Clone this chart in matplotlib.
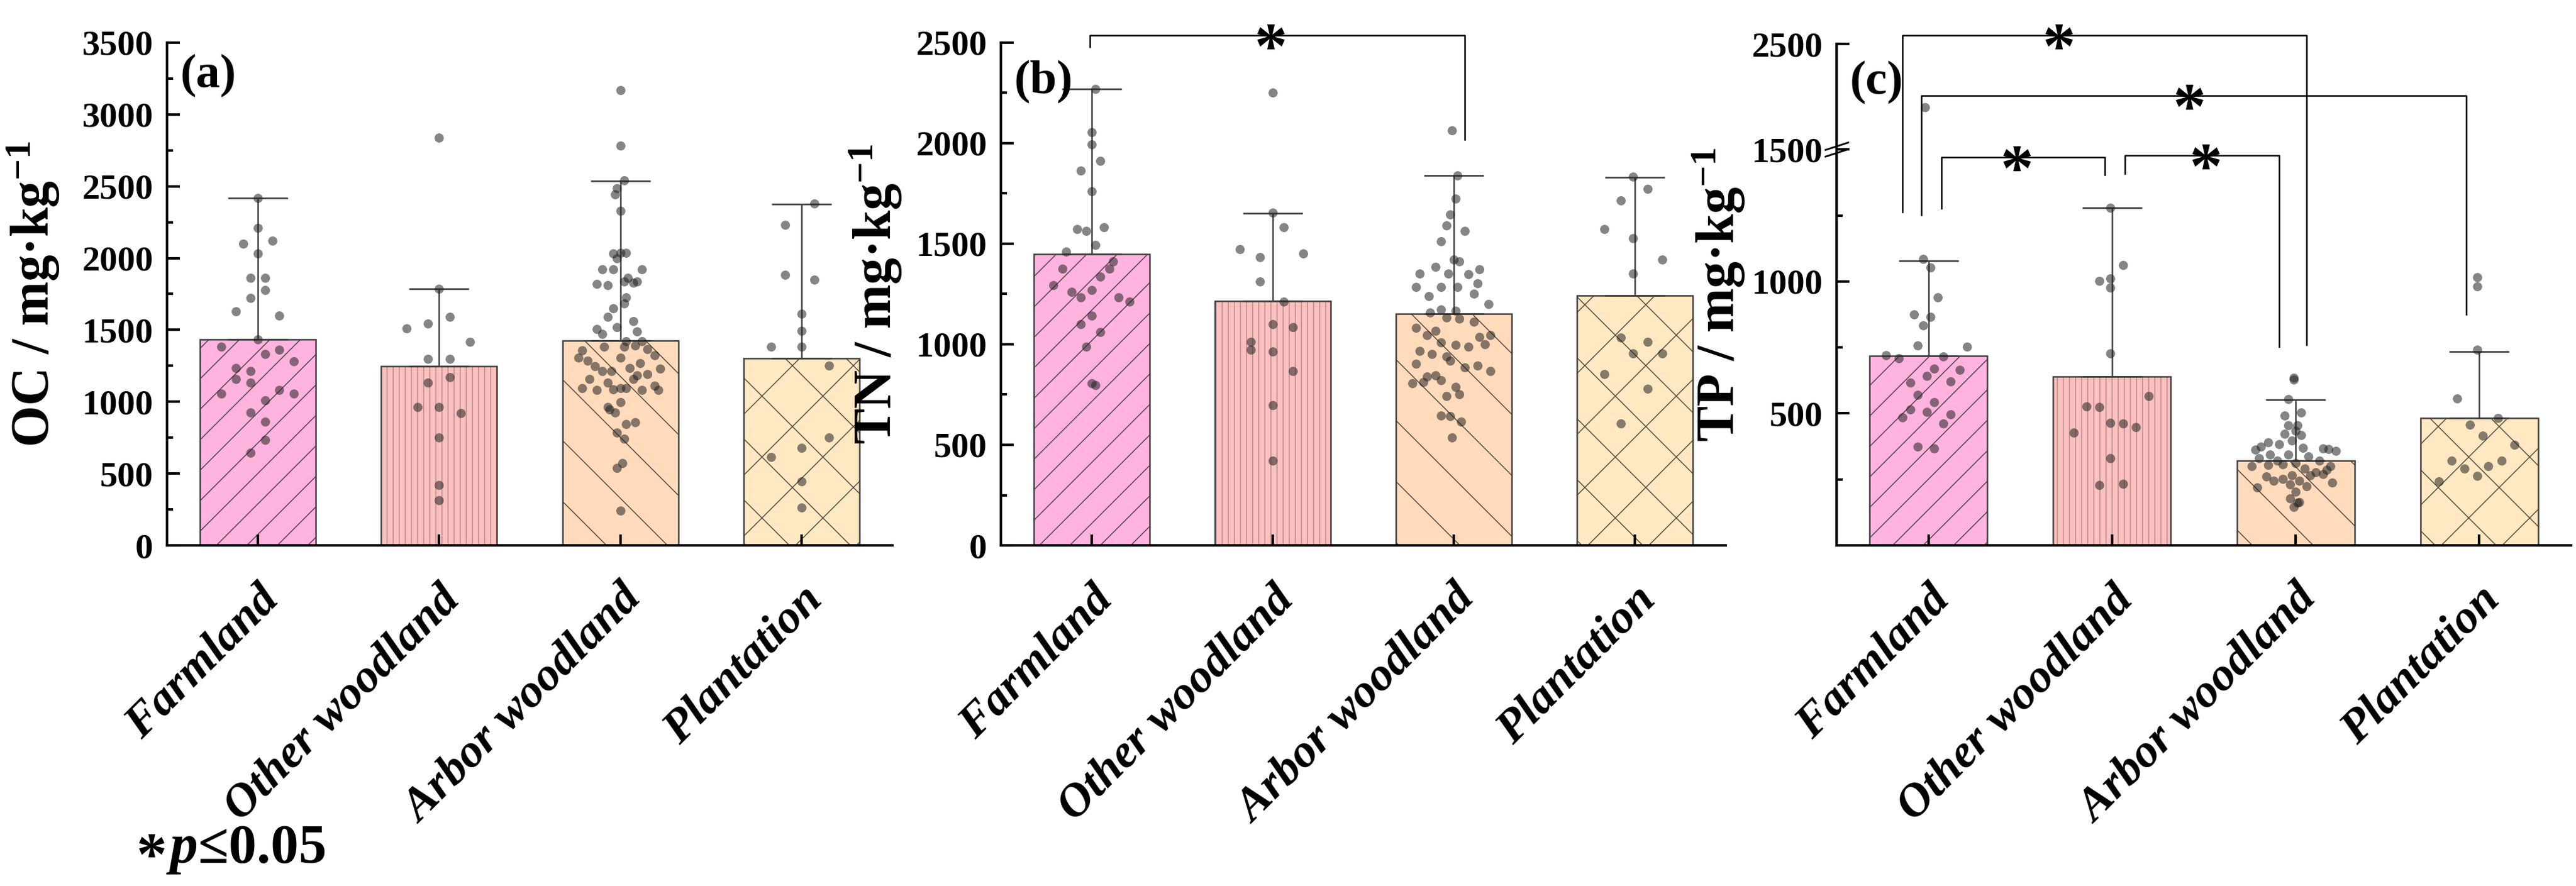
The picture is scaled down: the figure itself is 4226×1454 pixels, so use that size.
import numpy as np
import matplotlib
matplotlib.use("Agg")
import matplotlib.pyplot as plt
from matplotlib import transforms
from matplotlib.path import Path
from matplotlib.ticker import MultipleLocator, FuncFormatter

plt.rcParams["font.family"] = ["Liberation Serif", "DejaVu Serif"]
plt.rcParams["font.weight"] = "bold"
plt.rcParams["mathtext.fontset"] = "custom"
plt.rcParams["mathtext.rm"] = "Liberation Serif:bold"
plt.rcParams["mathtext.it"] = "Liberation Serif:italic:bold"
plt.rcParams["mathtext.bf"] = "Liberation Serif:bold"
plt.rcParams["hatch.linewidth"] = 0.35

# ---- data ----
groups = ["Farmland", "Other woodland", "Arbor woodland", "Plantation"]

oc_mean = [1434, 1247, 1426, 1301]
oc_top = [2419, 1785, 2535, 2376]
tn_mean = [1449, 1214, 1152, 1242]
tn_top = [2271, 1651, 1840, 1830]
tp_mean = [719, 639, 322, 482]
tp_top = [1079, 1279, 552, 735]

# OC points (value, horizontal jitter in category units)
oc_farm = [2419, 2209, 2099, 2120, 2030, 1861, 1861, 1779, 1723, 1631, 1600, 1434, 1382, 1362,
           1331, 1234, 1214, 1160, 1280, 1134, 1080, 1055, 1055, 1011, 924, 863, 735, 645]
oc_farm_dx = [0, 0, -0.08, 0.08, 0, -0.04, 0.04, 0.04, -0.04, -0.12, 0.12, 0, -0.20, 0.12,
              0.04, -0.12, -0.04, -0.12, 0.20, -0.04, 0.12, -0.20, 0.20, 0.04, -0.04, 0.04, 0.04, -0.04]
oc_other = [2837, 1785, 1512, 1546, 1589, 1415, 1300, 1300, 1172, 1132, 963, 963, 922, 753, 422, 315]
oc_other_dx = [0, 0, -0.18, -0.06, 0.06, 0.17, -0.06, 0.06, 0.06, -0.06, -0.12, 0, 0.12, 0, 0, 0]
oc_arbor = [3167, 2785, 2540, 2488, 2445, 2330, 2033, 2038, 2038, 1997, 1920, 1920, 1920, 1864,
            1838, 1838, 1820, 1813, 1830, 1726, 1685, 1651, 1592, 1562, 1518, 1508, 1470, 1490,
            1421, 1421, 1382, 1382, 1393, 1367, 1324, 1357, 1306, 1285, 1306, 1267, 1247, 1214,
            1214, 1234, 1229, 1193, 1183, 1160, 1134, 1160, 1096, 1096, 1080, 1088, 1096, 1111,
            1080, 1080, 998, 963, 945, 924, 845, 858, 783, 742, 573, 538, 241]
oc_arbor_dx = [0, 0, 0.02, -0.02, -0.03, 0, -0.04, 0.03, 0, -0.02, -0.10, -0.04, 0.12, 0.04,
               0.09, 0.02, -0.13, -0.07, 0.07, 0.03, 0.02, -0.04, -0.07, 0.07, -0.02, -0.13, -0.10, 0.09,
               0.03, 0.12, -0.09, 0.02, 0.08, 0.15, 0.19, -0.21, -0.23, -0.18, 0, 0.11, -0.14, -0.05,
               -0.10, 0.05, 0.22, 0.15, 0.09, -0.17, -0.07, 0.07, 0, -0.21, -0.13, -0.04, 0.03, 0.19,
               0.12, 0.21, 0, -0.07, -0.06, -0.03, 0.03, 0.08, -0.02, 0.02, 0.01, -0.02, 0]
oc_plant = [2378, 2233, 1882, 1851, 1610, 1493, 1382, 1382, 1252, 753, 678, 614, 445, 264]
oc_plant_dx = [0.07, -0.09, -0.09, 0.07, 0, 0, -0.17, 0, 0.15, 0.15, 0, -0.17, 0, 0]

# TN points
tn_farm = [2271, 2054, 1994, 1913, 1864, 1761, 1574, 1563, 1583, 1495, 1462, 1412, 1376, 1376,
           1335, 1269, 1293, 1262, 1234, 1234, 1211, 1141, 1101, 1060, 987, 798, 807]
tn_farm_dx = [0.02, 0, 0, 0.05, -0.06, 0, -0.08, -0.03, 0.07, 0.02, -0.14, 0.12, 0.10, -0.16,
              0.05, 0, -0.21, -0.11, -0.06, 0.15, 0.21, 0, -0.06, 0.05, -0.03, 0.02, 0]
tn_other = [2252, 1654, 1583, 1473, 1434, 1453, 1311, 1211, 1101, 1086, 1012, 972, 965, 866, 697, 422]
tn_other_dx = [0, 0, 0.06, -0.18, -0.07, 0.17, -0.07, 0.06, 0, 0.11, -0.12, -0.12, 0, 0.11, 0, 0]
tn_arbor = [2063, 1838, 1724, 1645, 1592, 1563, 1513, 1412, 1421, 1372, 1385, 1352, 1352, 1348,
            1284, 1284, 1284, 1302, 1238, 1253, 1201, 1174, 1168, 1159, 1128, 1134, 1113, 1082,
            1045, 1067, 1045, 1036, 1000, 1009, 996, 987, 968, 950, 939, 902, 917, 884, 895, 866,
            844, 840, 807, 811, 822, 789, 752, 743, 646, 642, 614, 536]
tn_arbor_dx = [-0.01, 0.02, 0.01, -0.02, -0.04, 0.06, -0.07, 0.03, 0, 0.14, -0.10, -0.19, -0.03, 0.08,
               0.02, -0.07, -0.21, 0.13, -0.14, 0.11, 0.19, -0.07, 0.01, -0.13, 0.03, -0.04, 0.11, -0.21,
               -0.15, -0.10, 0.20, 0.14, 0.17, -0.07, 0.01, 0.08, -0.19, -0.12, -0.04, -0.21, -0.02, 0.06,
               0.13, 0.20, -0.10, -0.15, -0.23, -0.17, -0.07, 0.01, 0.03, -0.04, -0.07, -0.02, 0.04, -0.01]
tn_plant = [1834, 1772, 1715, 1574, 1528, 1421, 1352, 1033, 1012, 954, 954, 851, 780, 605]
tn_plant_dx = [-0.01, 0.07, -0.08, -0.17, -0.01, 0.15, -0.01, -0.08, 0.07, -0.01, 0.15, -0.17, 0.07, -0.08]

# TP points
tp_farm = [1899, 1084, 1052, 939, 875, 865, 834, 758, 753, 721, 708, 716, 670, 666, 642, 617,
           621, 570, 543, 515, 506, 485, 496, 461, 375, 366]
tp_farm_dx = [-0.02, -0.03, 0.01, 0.05, -0.08, 0.01, -0.03, -0.06, 0.21, -0.23, -0.16, 0.08, 0.03,
              0.17, -0.01, -0.10, 0.12, -0.06, 0.03, -0.10, -0.01, -0.14, 0.12, 0.08, -0.06, 0.03]
tp_other = [1279, 1061, 1001, 1011, 976, 728, 565, 526, 524, 465, 461, 447, 426, 329, 228, 234]
tp_other_dx = [-0.01, 0.06, -0.07, -0.01, -0.01, -0.01, 0.20, -0.14, -0.07, -0.01, 0.06, 0.13, -0.21,
               -0.01, -0.07, 0.06]
tp_arbor = [635, 628, 554, 503, 492, 454, 454, 433, 422, 419, 398, 391, 384, 362, 373, 370, 368,
            357, 364, 343, 343, 336, 329, 322, 322, 312, 301, 304, 308, 301, 290, 276, 287, 262,
            266, 266, 245, 252, 245, 269, 238, 231, 220, 224, 203, 178, 164, 145, 162]
tp_arbor_dx = [-0.01, -0.01, -0.04, 0.03, -0.06, 0.01, -0.04, 0, -0.06, 0.03, -0.02, -0.15, -0.09,
               -0.22, -0.19, 0.04, 0.15, 0.22, 0.18, -0.14, -0.04, 0.07, -0.20, -0.10, 0.13, 0, -0.24,
               -0.15, -0.07, 0.19, 0.05, 0.11, 0.17, -0.16, -0.02, 0.08, -0.12, -0.07, 0.02, 0.15, 0.20,
               -0.03, -0.21, 0.06, 0, -0.03, 0.02, -0.01, 0.01]
tp_plant = [1015, 981, 740, 556, 482, 458, 415, 382, 322, 322, 301, 290, 263, 242]
tp_plant_dx = [-0.01, -0.01, -0.01, -0.12, 0.10, -0.05, 0.02, 0.19, -0.15, 0.12, 0.05, -0.08, -0.01, -0.22]

# significance brackets: (x left, x right, top, left foot, right foot, star x)
tn_sig = [(-0.01, 2.06, 2537, 2480, 2018, 0.99)]
tp_sig = [(-0.14, 2.06, 2583, 1262, 760, 0.71),
          (-0.04, 2.93, 2010, 1251, 875, 1.42),
          (0.07, 0.96, 1471, 1276, 1404, 0.48),
          (1.07, 1.91, 1478, 1408, 753, 1.51)]

# ---- style ----
fills = ["#FFB3DE", "#FCC0BE", "#FFDABB", "#FFE8C2"]
hatch_cols = ["#4a3a44", "#b08a8a", "#4a4038", "#4a4438"]
hatches = ["//", "|||||", "\\", "x"]
x = np.arange(4)

fig = plt.figure(figsize=(4226 / 300, 1454 / 300), dpi=300)
ax1 = fig.add_axes([274 / 4226, 559 / 1454, 1190 / 4226, 825 / 1454])
ax2 = fig.add_axes([1642 / 4226, 559 / 1454, 1189 / 4226, 825 / 1454])
ax3 = fig.add_axes([3013 / 4226, 559 / 1454, 1205 / 4226, 823 / 1454])


def fwd(v):
    v = np.asarray(v, dtype=float)
    return np.where(v <= 1500, v, 1500 + (v - 1500) * 0.4)


def inv(t):
    t = np.asarray(t, dtype=float)
    return np.where(t <= 1500, t, 1500 + (t - 1500) / 0.4)


ax3.set_yscale("function", functions=(fwd, inv))


def draw_panel(ax, means, tops, pts, dxs):
    for i in range(4):
        ax.bar(x[i], means[i], width=0.64, color=fills[i], edgecolor=hatch_cols[i],
               linewidth=0, hatch=hatches[i], zorder=1)
    ax.bar(x, means, width=0.64, color="none", edgecolor="#404040", linewidth=0.6, zorder=2)
    sd = np.array(tops) - np.array(means)
    ax.errorbar(x, means, yerr=[np.zeros(4), sd], fmt="none", ecolor="#404040",
                elinewidth=0.6, capsize=11.8, capthick=0.65, zorder=3)
    for i in range(4):
        ax.scatter(x[i] + np.array(dxs[i]), pts[i], s=13, color="#222222", alpha=0.55,
                   linewidths=0, zorder=4)


draw_panel(ax1, oc_mean, oc_top, [oc_farm, oc_other, oc_arbor, oc_plant],
           [oc_farm_dx, oc_other_dx, oc_arbor_dx, oc_plant_dx])
draw_panel(ax2, tn_mean, tn_top, [tn_farm, tn_other, tn_arbor, tn_plant],
           [tn_farm_dx, tn_other_dx, tn_arbor_dx, tn_plant_dx])
draw_panel(ax3, tp_mean, tp_top, [tp_farm, tp_other, tp_arbor, tp_plant],
           [tp_farm_dx, tp_other_dx, tp_arbor_dx, tp_plant_dx])

ax1.set_ylim(0, 3500)
ax2.set_ylim(0, 2500)
ax3.set_ylim(0, 2500)
for ax in (ax1, ax2):
    ax.yaxis.set_major_locator(MultipleLocator(500))
    ax.yaxis.set_minor_locator(MultipleLocator(250))
ax3.set_yticks([500, 1000, 1500, 2500])
ax3.set_yticks([250, 750, 1250], minor=True)
ax3.yaxis.set_major_formatter(FuncFormatter(lambda v, p: "%d" % round(v)))

shift = transforms.ScaledTranslation(0.16, 0, fig.dpi_scale_trans)
for ax in (ax1, ax2, ax3):
    ax.spines[["top", "right"]].set_visible(False)
    ax.spines[["left", "bottom"]].set_linewidth(1.0)
    ax.set_xlim(-0.5, 3.5)
    ax.set_xticks(x)
    ax.set_xticklabels(groups, rotation=45, ha="right", fontsize=18.5,
                       fontstyle="italic", fontweight="bold")
    ax.tick_params(axis="x", direction="in", length=4.4, width=1.0, pad=13)
    ax.tick_params(axis="y", which="major", direction="in", length=5, width=1.0,
                   labelsize=14, pad=5.5)
    ax.tick_params(axis="y", which="minor", direction="in", length=2.3, width=1.0)
    for lab in ax.get_xticklabels():
        lab.set_transform(lab.get_transform() + shift)

ax1.set_ylabel("OC / mg·kg$^{-1}$", fontsize=21, fontweight="bold")
ax2.set_ylabel("TN / mg·kg$^{-1}$", fontsize=21, fontweight="bold")
ax3.set_ylabel("TP / mg·kg$^{-1}$", fontsize=21, fontweight="bold")
ax1.yaxis.set_label_coords(-0.145, 0.5)
ax2.yaxis.set_label_coords(-0.134, 0.5)
ax3.yaxis.set_label_coords(-0.122, 0.5)

for ax, lab, yy in ((ax1, "(a)", 0.977), (ax2, "(b)", 0.965), (ax3, "(c)", 0.966)):
    ax.text(0.018, yy, lab, transform=ax.transAxes, ha="left", va="top", fontsize=19)

# axis break on TP
brk = Path([(-1, -0.6), (1, 0.05), (-1, -0.05), (1, 0.6)],
           [Path.MOVETO, Path.LINETO, Path.MOVETO, Path.LINETO])
ax3.plot([0], [1500], transform=ax3.get_yaxis_transform(), marker=brk, markersize=9.6,
         mfc="none", mec="k", mew=0.7, linestyle="none", clip_on=False, zorder=6)


def brackets(ax, sigs):
    star_tr = transforms.offset_copy(ax.transData, fig=fig, y=-13, units="points")
    for xl, xr, top, yl, yr, xs in sigs:
        ax.plot([xl, xl, xr, xr], [yl, top, top, yr], color="k", lw=0.6, clip_on=False, zorder=5)
        ax.text(xs, top, "*", ha="center", va="baseline", fontsize=26, transform=star_tr,
                clip_on=False, zorder=6)


brackets(ax2, tn_sig)
brackets(ax3, tp_sig)

fig.text(224 / 4226, 0.026, "*", fontsize=24, ha="left", va="baseline",
         transform=fig.transFigure + transforms.ScaledTranslation(0, -0.06, fig.dpi_scale_trans))
fig.text(272 / 4226, 0.026, "$p$≤0.05", fontsize=22, ha="left", va="baseline")

fig.savefig("out.png", dpi=300)
